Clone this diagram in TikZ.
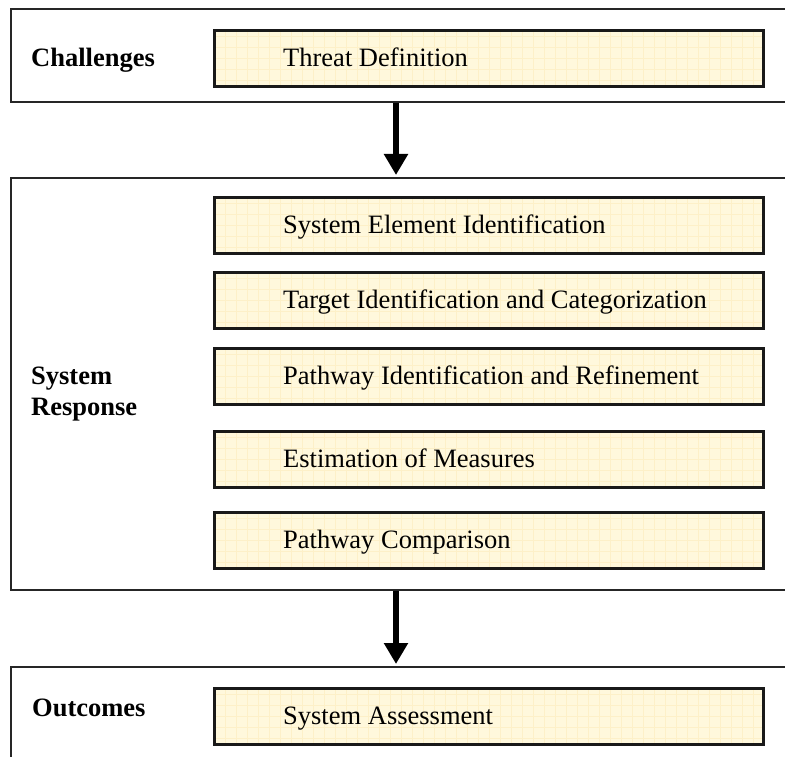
\documentclass[tikz,border=0pt]{standalone}
\usepackage{fontspec}
\setmainfont{Liberation Serif}
\usepackage{tikz}
\usetikzlibrary{arrows.meta,
                calc,
                positioning}
\definecolor{boxfill}{HTML}{FFF8DC}
\definecolor{boxgrid}{HTML}{FDF0C8}
\tikzset{
  frame/.style={draw=black!85,line width=2pt,anchor=north west,minimum width=800pt,inner sep=0pt},
  taskbox/.style={draw=black!90,line width=2.6pt,fill=boxfill,anchor=north west,
    minimum width=549pt,minimum height=56pt,inner sep=0pt,
    path picture={\draw[boxgrid,line width=0.4pt] (path picture bounding box.south west)
      grid[step=11pt] (path picture bounding box.north east);}},
  tasktext/.style={anchor=base west,font=\fontsize{26.5}{31}\selectfont,inner sep=0pt},
  heading/.style={anchor=base west,font=\fontsize{26.5}{31}\selectfont\bfseries,align=left,inner sep=0pt},
  flow/.style={line width=6pt,-{Triangle[length=21pt,width=23pt]}}
}

\begin{document}
\begin{tikzpicture}[x=1pt,y=-1pt]
  \useasboundingbox (0,0) rectangle (785,757);
  % the three stages
  \node[frame,minimum height=93pt] (chal) at (10,8) {};
  \node[frame,minimum height=412pt] (resp) at (10,177) {};
  \node[frame,minimum height=120pt] (outc) at (10,666) {};
  \node[heading] (chal-lbl) at (31,67) {Challenges};
  \node[heading,anchor=west] (resp-lbl) at (31,394) {System\\Response};
  \node[heading] (outc-lbl) at (32,716) {Outcomes};
  % steps
  \foreach \i/\y/\txt in {0/29/Threat Definition,
                          1/196/System Element Identification,
                          2/271/Target Identification and Categorization,
                          3/347/Pathway Identification and Refinement,
                          4/430/Estimation of Measures,
                          5/511/Pathway Comparison,
                          6/687/System Assessment}{%
    \node[taskbox] (B-\i) at (213,\y) {};
    \node[tasktext] (T-\i) at ([xshift=70pt,yshift=-8pt]B-\i.west) {\txt};
  }
  % flow between stages
  \coordinate (ax) at (396,0);
  \draw[flow] (chal.south -| ax) -- ([yshift=2pt]resp.north -| ax);
  \draw[flow] (resp.south -| ax) -- ([yshift=2pt]outc.north -| ax);
\end{tikzpicture}
\end{document}
